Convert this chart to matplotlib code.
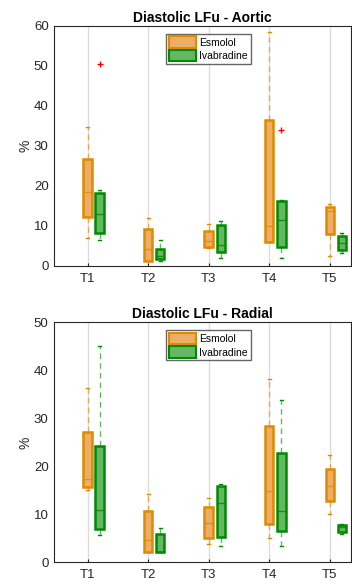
import numpy as np
import matplotlib
matplotlib.use("Agg")
import matplotlib.pyplot as plt
from matplotlib.patches import Patch

plt.rcParams['font.family'] = ['Liberation Sans', 'DejaVu Sans']

times = ["T1", "T2", "T3", "T4", "T5"]
groups = ["Esmolol", "Ivabradine"]

# Aortic: box stats per time point
aortic_esm_whislo = [6.9, 1.2, 4.4, 6.0, 2.5]
aortic_esm_q1 = [12.2, 1.3, 4.8, 6.0, 8.0]
aortic_esm_med = [18.4, 4.2, 6.2, 10.1, 13.7]
aortic_esm_q3 = [26.8, 9.2, 8.7, 36.4, 14.7]
aortic_esm_whishi = [34.6, 12.0, 10.6, 58.5, 15.4]
aortic_esm_fliers = [[], [], [], [], []]

aortic_iva_whislo = [6.4, 1.2, 2.0, 1.9, 3.2]
aortic_iva_q1 = [8.2, 1.7, 3.4, 4.8, 4.0]
aortic_iva_med = [13.1, 2.4, 5.2, 11.5, 5.7]
aortic_iva_q3 = [18.3, 4.2, 10.2, 16.3, 7.4]
aortic_iva_whishi = [19.1, 6.4, 11.2, 16.6, 8.3]
aortic_iva_fliers = [[50.4], [], [], [33.9], []]

# Radial
radial_esm_whislo = [15.1, 2.1, 3.75, 5.0, 10.0]
radial_esm_q1 = [15.6, 2.1, 5.1, 7.9, 12.8]
radial_esm_med = [17.3, 4.65, 8.1, 14.8, 16.0]
radial_esm_q3 = [27.2, 10.7, 11.5, 28.3, 19.4]
radial_esm_whishi = [36.25, 14.3, 13.5, 38.1, 22.3]
radial_esm_fliers = [[], [], [], [], []]

radial_iva_whislo = [5.7, 2.1, 3.3, 3.5, 5.8]
radial_iva_q1 = [7.0, 2.1, 5.3, 6.5, 6.4]
radial_iva_med = [10.8, 2.2, 12.4, 10.7, 7.3]
radial_iva_q3 = [24.2, 5.8, 15.9, 22.8, 7.85]
radial_iva_whishi = [45.0, 7.2, 16.25, 33.75, 8.0]
radial_iva_fliers = [[], [], [], [], []]

edge_cols = ["#E08A00", "#008A00"]
fill_cols = ["#ECAE66", "#64B864"]


def make_stats(lo, q1, med, q3, hi, fl):
    return [dict(whislo=lo[i], q1=q1[i], med=med[i], q3=q3[i], whishi=hi[i],
                 fliers=fl[i]) for i in range(len(med))]


def draw_panel(ax, title, ymax, esm, iva):
    pos = np.arange(1, len(times) + 1)
    for k, (st, off) in enumerate([(esm, 0.0), (iva, 0.2)]):
        ax.bxp(st, positions=pos + off, widths=0.14, patch_artist=True,
               manage_ticks=False,
               boxprops=dict(facecolor=fill_cols[k], edgecolor=edge_cols[k],
                             linewidth=1.8),
               medianprops=dict(color=edge_cols[k], linewidth=1.0, alpha=0.8),
               whiskerprops=dict(color=edge_cols[k], linestyle=(0, (4, 3)),
                                 linewidth=1.0, alpha=0.6),
               capprops=dict(color=edge_cols[k], linewidth=1.0),
               capwidths=0.05,
               flierprops=dict(marker='+', markeredgecolor='red',
                               markersize=5, markeredgewidth=1.0))
    ax.set_xlim(0.45, 5.35)
    ax.set_ylim(0, ymax)
    ax.set_xticks(pos)
    ax.set_xticklabels(times)
    ax.xaxis.grid(True, color='#dcdcdc', linewidth=1.0)
    ax.set_axisbelow(True)
    ax.tick_params(direction='in', length=2, labelsize=9.5, colors='#262626')
    ax.tick_params(axis='y', length=0, pad=4)
    ax.tick_params(axis='x', pad=5)
    ax.set_ylabel("%", fontsize=10, color='#262626', labelpad=1)
    ax.set_title(title, fontsize=10, fontweight='bold', pad=3)
    for s in ax.spines.values():
        s.set_color('#262626')
        s.set_linewidth(0.8)
    handles = [Patch(facecolor=fill_cols[k], edgecolor=edge_cols[k],
                     linewidth=1.5, label=groups[k]) for k in range(2)]
    ax.legend(handles=handles, loc='upper center', bbox_to_anchor=(0.52, 0.975),
              fontsize=7.5, frameon=True, fancybox=False, edgecolor='#404040',
              handlelength=2.6, handleheight=1.3, borderpad=0.25,
              labelspacing=0.2, handletextpad=0.3, borderaxespad=0.2)


fig = plt.figure(figsize=(3.52, 5.85), dpi=100)
ax1 = fig.add_axes([0.154, 0.5453, 0.843, 0.4107])
ax2 = fig.add_axes([0.154, 0.0388, 0.843, 0.4102])

draw_panel(ax1, "Diastolic LFu - Aortic", 60,
           make_stats(aortic_esm_whislo, aortic_esm_q1, aortic_esm_med,
                      aortic_esm_q3, aortic_esm_whishi, aortic_esm_fliers),
           make_stats(aortic_iva_whislo, aortic_iva_q1, aortic_iva_med,
                      aortic_iva_q3, aortic_iva_whishi, aortic_iva_fliers))
draw_panel(ax2, "Diastolic LFu - Radial", 50,
           make_stats(radial_esm_whislo, radial_esm_q1, radial_esm_med,
                      radial_esm_q3, radial_esm_whishi, radial_esm_fliers),
           make_stats(radial_iva_whislo, radial_iva_q1, radial_iva_med,
                      radial_iva_q3, radial_iva_whishi, radial_iva_fliers))

fig.savefig("out.png", dpi=100)
